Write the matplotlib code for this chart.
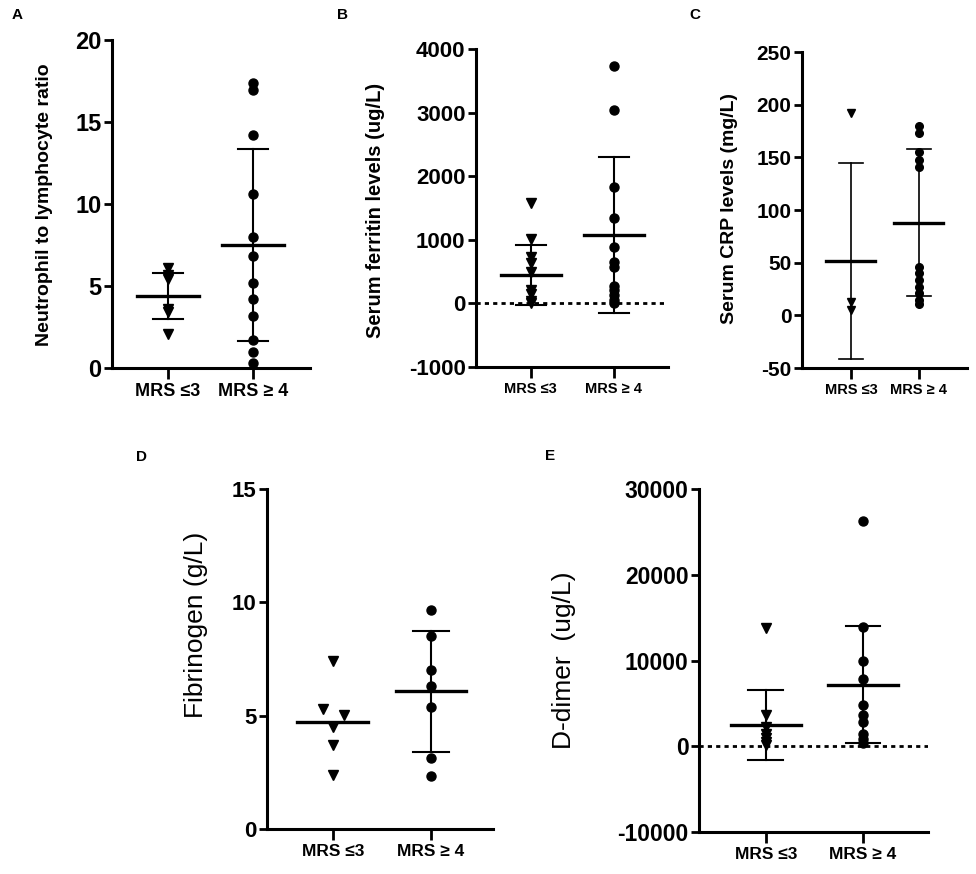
import matplotlib
matplotlib.use('Agg')
import matplotlib.pyplot as plt

plt.rcParams['font.family'] = ['Liberation Sans', 'DejaVu Sans']
plt.rcParams['axes.unicode_minus'] = False

W, H = 976, 874

groups = ['MRS ≤3', 'MRS ≥ 4']

# A: neutrophil to lymphocyte ratio
nlr_low = [6.1, 5.7, 5.4, 3.6, 3.4, 2.1]
nlr_high = [17.35, 16.95, 14.2, 10.6, 8.0, 6.8, 5.2, 4.2, 3.2, 1.7, 1.0, 0.3]
nlr_mean = [4.4, 7.5]
nlr_sd = [1.4, 5.85]

# B: serum ferritin
fer_low = [1580, 1020, 730, 630, 500, 210, 150, 30, 0]
fer_high = [3730, 3045, 1825, 1340, 880, 655, 575, 270, 210, 130, 50, 0]
fer_mean = [445, 1075]
fer_sd = [475, 1220]

# C: serum CRP
crp_low = [192, 13, 5]
crp_high = [180, 173, 155, 147, 141, 46, 40, 34, 27, 21, 15, 11]
crp_mean = [52, 88]
crp_sd = [93, 70]

# D: fibrinogen
fib_low = [7.4, 5.3, 5.05, 4.5, 3.7, 2.4]
fib_low_jitter = [0, -0.1, 0.11, 0, 0, 0]
fib_high = [9.67, 8.5, 7.0, 6.3, 5.4, 3.13, 2.32]
fib_mean = [4.7, 6.07]
fib_sd = [None, 2.68]

# E: D-dimer
dd_low = [13800, 3600, 2250, 1480, 970, 500, 120]
dd_high = [26300, 13900, 9900, 7800, 4850, 3600, 2850, 1480, 900, 390]
dd_mean = [2530, 7200]
dd_sd = [4080, 6800]


def px_axes(fig, left, top, right, bottom):
    return fig.add_axes([left / W, 1 - bottom / H, (right - left) / W, (bottom - top) / H])


def style_axis(ax, ylim, yticks, ylabel, xlim, label_pos, label_size=14, label_weight='bold',
               tick_size=16, xtick_size=12):
    ax.set_ylim(*ylim)
    ax.set_xlim(*xlim)
    ax.set_yticks(yticks)
    ax.set_xticks([1, 2])
    ax.set_xticklabels(groups, fontsize=xtick_size, fontweight='bold')
    for t in ax.get_yticklabels():
        t.set_fontsize(tick_size)
        t.set_fontweight('bold')
    ax.set_ylabel(ylabel, fontsize=label_size, fontweight=label_weight)
    # label_pos: (right edge x, centre y) in pixels
    ax.yaxis.set_label_coords(label_pos[0] / W, 1 - label_pos[1] / H, transform=ax.figure.transFigure)
    for s in ['top', 'right']:
        ax.spines[s].set_visible(False)
    for s in ['left', 'bottom']:
        ax.spines[s].set_linewidth(2.2)
    ax.tick_params(axis='y', width=2.0, length=6, pad=1.5)
    ax.tick_params(axis='x', width=2.0, length=8, pad=3)
    ax.patch.set_visible(False)


def draw_group(ax, x, vals, marker, mean, sd, jitter=None, ms=6.5, sd_lw=1.5):
    xs = [x + (jitter[i] if jitter else 0) for i in range(len(vals))]
    ax.plot(xs, vals, ls='none', marker=marker, color='black', markersize=ms, zorder=3)
    ax.plot([x - 0.36, x + 0.36], [mean, mean], color='black', lw=2.4, zorder=4)
    if sd is not None:
        ax.plot([x, x], [mean - sd, mean + sd], color='black', lw=sd_lw, zorder=2)
        for y in (mean - sd, mean + sd):
            ax.plot([x - 0.18, x + 0.18], [y, y], color='black', lw=sd_lw, zorder=4)


fig = plt.figure(figsize=(W / 100, H / 100), dpi=100)

# A
ax = px_axes(fig, 112, 40, 310, 368)
style_axis(ax, (0, 20), [0, 5, 10, 15, 20], 'Neutrophil to lymphocyte ratio', (0.34, 2.67),
           (53, 205), label_size=14, tick_size=17, xtick_size=13)
draw_group(ax, 1, nlr_low, 'v', nlr_mean[0], nlr_sd[0])
draw_group(ax, 2, nlr_high, 'o', nlr_mean[1], nlr_sd[1])

# B
ax = px_axes(fig, 476, 49, 668, 367)
style_axis(ax, (-1000, 4000), [-1000, 0, 1000, 2000, 3000, 4000], 'Serum ferritin levels (ug/L)',
           (0.34, 2.65), (385, 210), label_size=14.5, tick_size=16, xtick_size=10.5)
ax.axhline(0, color='black', lw=2.0, ls=(0, (1.5, 1.5)), zorder=1)
draw_group(ax, 1, fer_low, 'v', fer_mean[0], fer_sd[0])
draw_group(ax, 2, fer_high, 'o', fer_mean[1], fer_sd[1])

# C
ax = px_axes(fig, 802, 52, 967, 368)
style_axis(ax, (-50, 250), [-50, 0, 50, 100, 150, 200, 250], 'Serum CRP levels (mg/L)',
           (0.28, 2.71), (738, 209), label_size=14, tick_size=15, xtick_size=10.5)
draw_group(ax, 1, crp_low, 'v', crp_mean[0], crp_sd[0], ms=5.5, sd_lw=1.2)
draw_group(ax, 2, crp_high, 'o', crp_mean[1], crp_sd[1], ms=5.5, sd_lw=1.2)

# D
ax = px_axes(fig, 267, 489, 493, 829)
style_axis(ax, (0, 15), [0, 5, 10, 15], 'Fibrinogen (g/L)', (0.33, 2.63), (208, 625),
           label_size=19, label_weight='normal', tick_size=16, xtick_size=12.5)
draw_group(ax, 1, fib_low, 'v', fib_mean[0], fib_sd[0], jitter=fib_low_jitter)
draw_group(ax, 2, fib_high, 'o', fib_mean[1], fib_sd[1])

# E
ax = px_axes(fig, 699, 489, 928, 832)
style_axis(ax, (-10000, 30000), [-10000, 0, 10000, 20000, 30000], 'D-dimer  (ug/L)',
           (0.31, 2.67), (576, 660), label_size=19, label_weight='normal', tick_size=16.5,
           xtick_size=12.5)
ax.axhline(0, color='black', lw=2.0, ls=(0, (1.5, 1.5)), zorder=1)
draw_group(ax, 1, dd_low, 'v', dd_mean[0], dd_sd[0])
draw_group(ax, 2, dd_high, 'o', dd_mean[1], dd_sd[1])

# panel letters
for letter, x, y in [('A', 12, 15), ('B', 337, 15), ('C', 689, 15), ('D', 136, 457), ('E', 545, 456)]:
    fig.text(x / W, 1 - y / H, letter, fontsize=11, fontweight='bold', va='center', ha='left')

fig.savefig('out.png', dpi=100)
